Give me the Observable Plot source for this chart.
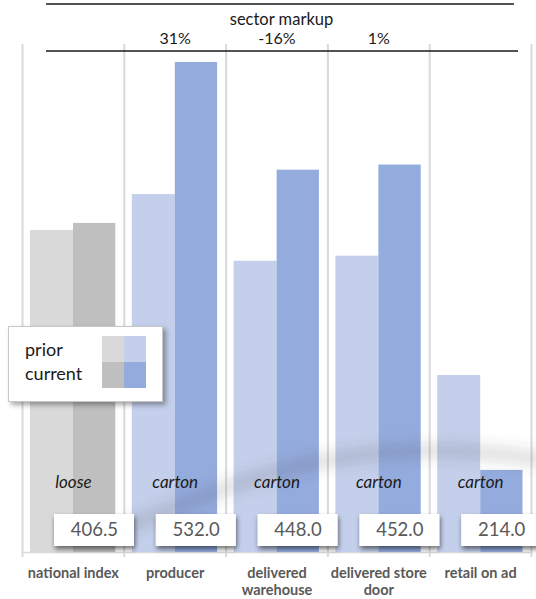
<!DOCTYPE html>
<html><head><meta charset="utf-8">
<script src="https://cdn.jsdelivr.net/npm/d3@7"></script>
<script src="https://cdn.jsdelivr.net/npm/@observablehq/plot@0.6"></script>
<style>
body{margin:0;background:#fff;}
#wrap{position:relative;width:536px;height:599px;font-family:Lato,"Open Sans",sans-serif;overflow:hidden;}
#legend{position:absolute;left:8px;top:326px;width:155px;height:76px;box-sizing:border-box;background:#fff;border:1px solid #c8c8c8;box-shadow:3px 3px 5px rgba(0,0,0,0.35);}
#legend .lab{position:absolute;left:16px;height:24px;line-height:24px;font-size:18px;color:#1a1a1a;}
#legend .sw{position:absolute;}
</style></head>
<body><div id="wrap"><div id="chart"></div><div id="legend"></div></div>
<script>
// ---- data ----
const categories = ["national index", "producer", "delivered\nwarehouse", "delivered store\ndoor", "retail on ad"];
const kinds = ["index", "sector", "sector", "sector", "sector"];
const priorValues = [401, 429, 377, 381, 288];
const currentValues = [406.5, 532.0, 448.0, 452.0, 214.0];
const packLabels = ["loose", "carton", "carton", "carton", "carton"];
const markupLabels = [null, "31%", "-16%", "1%", null];
const headerTitle = "sector markup";
const seriesNames = ["prior", "current"];
const kindNames = ["index", "sector"];
const palette = {index: ["#d9d9d9", "#bfbfbf"], sector: ["#c4cfeb", "#94abde"]};

const rows = categories.map((category, i) => ({
  i, category, kind: kinds[i], prior: priorValues[i], current: currentValues[i],
  pack: packLabels[i], markup: markupLabels[i], label: currentValues[i].toFixed(1)
}));
const yBase = 150;
const mid = d => d.i + 0.5;
const nextI = d => d.i + 1;

const defs = () => {
  const g = d3.create("svg:g");
  const df = g.append("defs");
  const f1 = df.append("filter").attr("id", "blurSwoosh").attr("x", "-20%").attr("y", "-80%").attr("width", "140%").attr("height", "260%");
  f1.append("feGaussianBlur").attr("stdDeviation", 7);
  const f2 = df.append("filter").attr("id", "boxShadow").attr("x", "-20%").attr("y", "-40%").attr("width", "150%").attr("height", "200%");
  f2.append("feDropShadow").attr("dx", 1).attr("dy", 3).attr("stdDeviation", 2.5).attr("flood-color", "#000").attr("flood-opacity", 0.55);
  return g.node();
};

const header = () => {
  const g = d3.create("svg:g").attr("stroke", "#1a1a1a").attr("stroke-width", 1.5);
  g.append("line").attr("x1", 46).attr("x2", 514).attr("y1", 4).attr("y2", 4);
  g.append("line").attr("x1", 46).attr("x2", 518).attr("y1", 51).attr("y2", 51);
  return g.node();
};

const swoosh = () => {
  const g = d3.create("svg:g");
  g.append("path")
    .attr("d", "M128,526 C190,502 260,470 340,458 S480,450 545,460")
    .attr("fill", "none").attr("stroke", "#444").attr("stroke-opacity", 0.18)
    .attr("stroke-width", 14).attr("filter", "url(#blurSwoosh)");
  return g.node();
};

const chart = Plot.plot({
  width: 536, height: 599,
  marginLeft: 22, marginRight: 5, marginTop: 0, marginBottom: 47,
  x: {type: "linear", domain: [0, categories.length], axis: null},
  y: {domain: [yBase, 600], range: [552, 552 - 450 * 1.2829], axis: null},
  color: {
    domain: ["index-prior", "index-current", "sector-prior", "sector-current"],
    range: [palette.index[0], palette.index[1], palette.sector[0], palette.sector[1]]
  },
  style: {fontFamily: "Lato, 'Open Sans', sans-serif", background: "#fff", overflow: "visible"},
  marks: [
    defs,
    Plot.ruleX(d3.range(categories.length + 1), {x: d => d, stroke: "#d9d9d9", strokeWidth: 2, insetTop: 44, insetBottom: -5}),
    Plot.ruleY([yBase], {stroke: "#d9d9d9", strokeWidth: 1.5}),
    Plot.rect(rows, {x1: "i", x2: nextI, y1: () => yBase, y2: "prior", insetLeft: 8, insetRight: 50.8, fill: d => d.kind + "-prior"}),
    Plot.rect(rows, {x1: "i", x2: nextI, y1: () => yBase, y2: "current", insetLeft: 51, insetRight: 8.5, fill: d => d.kind + "-current"}),
    swoosh,
    Plot.text(rows, {x: mid, text: "pack", frameAnchor: "bottom", dy: -65, fontStyle: "italic", fontSize: 17, fill: "#1a1a1a"}),
    Plot.rect(rows, {x1: "i", x2: nextI, insetLeft: 11, insetRight: 10.8, dx: 21, insetTop: 514, insetBottom: 6, fill: "white"}),
    Plot.text(rows, {x: mid, text: "label", dx: 21, frameAnchor: "bottom", dy: -17, fontSize: 18.5, fill: "#595959"}),
    Plot.text(rows, {x: mid, text: "category", frameAnchor: "bottom", dy: 13, lineAnchor: "top", lineHeight: 1.2, fontSize: 14.5, fontWeight: "bold", fill: "#595959"}),
    header,
    Plot.text([headerTitle], {x: () => categories.length / 2, text: d => d, dx: 4.5, frameAnchor: "top", dy: 13, fontSize: 16.5, fill: "#1a1a1a"}),
    Plot.text(rows.filter(d => d.markup), {x: mid, text: "markup", frameAnchor: "top", dy: 32, fontSize: 16, fill: "#1a1a1a"})
  ]
});
const svgRoot = chart.tagName.toLowerCase() === "svg" ? chart : chart.querySelector("svg");
svgRoot.querySelectorAll("rect").forEach(r => {
  const f = r.getAttribute("fill") || (r.parentNode && r.parentNode.getAttribute && r.parentNode.getAttribute("fill"));
  if (f === "white") r.setAttribute("filter", "url(#boxShadow)");
});
document.getElementById("chart").appendChild(chart);

// legend (HTML, built from the series arrays)
const legend = d3.select("#legend");
seriesNames.forEach((name, r) => {
  legend.append("div").attr("class", "lab").style("top", (10 + 24 * r) + "px").text(name);
  kindNames.forEach((k, c) => {
    legend.append("div").attr("class", "sw")
      .style("left", (93 + 22 * c) + "px").style("top", (9 + 26 * r) + "px")
      .style("width", "22px").style("height", "26px")
      .style("background", palette[k][r]);
  });
});
</script>
</body></html>
